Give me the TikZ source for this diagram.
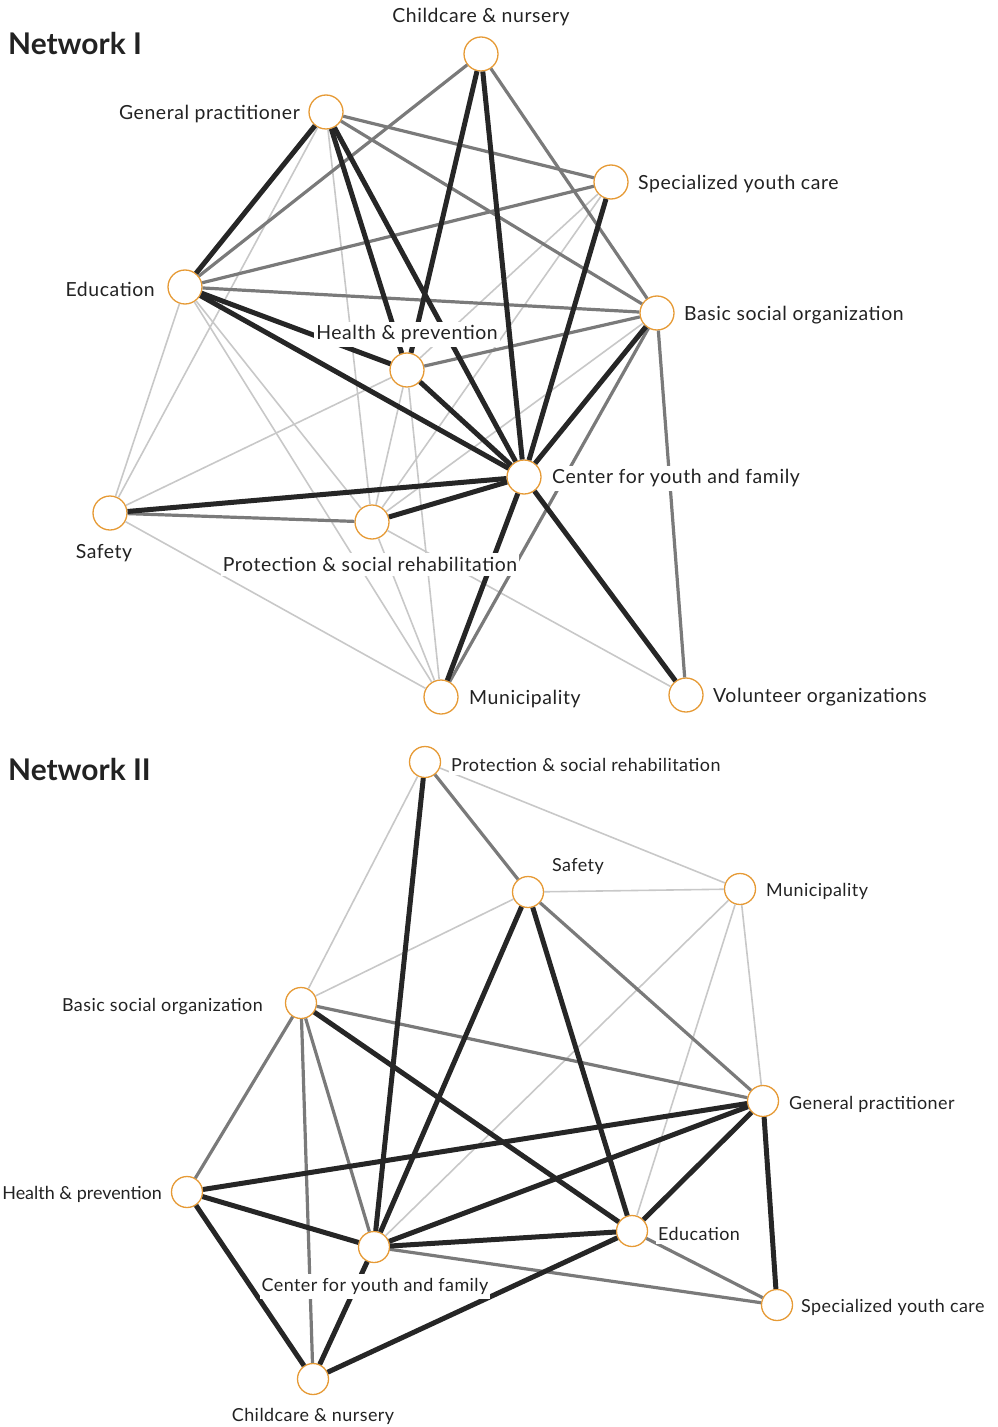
\documentclass[tikz,border=0pt]{standalone}
\usepackage{fontspec}
\setmainfont{Lato}
\definecolor{orng}{HTML}{E69A35}
\definecolor{dkc}{HTML}{262626}
\definecolor{mdc}{HTML}{7A7A7A}
\definecolor{ltc}{HTML}{C8C8C8}
\definecolor{txt}{HTML}{222222}
\tikzset{
  nd/.style={circle, draw=orng, fill=white, line width=1.3bp, minimum size=34bp, inner sep=0pt},
  ndb/.style={nd, minimum size=31bp},
  lb/.style={fill=white, inner xsep=2bp, inner ysep=4bp, yshift=-1.5bp, text=txt, font=\fontsize{19.5}{20}\selectfont\addfontfeatures{LetterSpace=3}},
  lbb/.style={lb, font=\fontsize{18}{19}\selectfont\addfontfeatures{LetterSpace=2.5}},
  ttl/.style={inner sep=0pt, text=txt, font=\fontsize{30}{31}\selectfont\bfseries},
  dk/.style={draw=dkc, line width=5bp},
  md/.style={draw=mdc, line width=3.2bp},
  lt/.style={draw=ltc, line width=1.6bp},
}
\begin{document}
\begin{tikzpicture}[x=1bp, y=-1bp]
\useasboundingbox (0,0) rectangle (997,1427);
% ---------------- Network I ----------------
\node[ttl, anchor=west] (t1) at (8,44) {Network I};
\node[nd] (cn) at (481,54) {};
\node[nd] (gp) at (326,112) {};
\node[nd] (syc) at (611,182) {};
\node[nd] (ed) at (185,287) {};
\node[nd] (bso) at (657,313) {};
\node[nd] (hp) at (407,370) {};
\node[nd] (cyf) at (524,477) {};
\node[nd] (saf) at (110,513) {};
\node[nd] (psr) at (372,522) {};
\node[nd] (mun) at (441,697) {};
\node[nd] (vol) at (686,695) {};
% light
\foreach \a/\b in {gp/saf, gp/psr, ed/saf, ed/psr, ed/mun, saf/hp, saf/mun, hp/psr, hp/mun, syc/hp, syc/psr, bso/psr, psr/vol, psr/mun}
  \draw[lt] (\a) -- (\b);
% medium
\foreach \a/\b in {cn/ed, cn/bso, gp/syc, gp/bso, ed/syc, ed/bso, hp/bso, saf/psr, bso/mun, bso/vol}
  \draw[md] (\a) -- (\b);
% dark
\foreach \a/\b in {gp/ed, gp/hp, gp/cyf, cn/hp, cn/cyf, syc/cyf, ed/hp, ed/cyf, bso/cyf, hp/cyf, saf/cyf, psr/cyf, cyf/mun, cyf/vol}
  \draw[dk] (\a) -- (\b);
% labels
\node[lb] (lcn) at (481,16) {Childcare \& nursery};
\node[lb, anchor=east] (lgp) at (302,113) {General practitioner};
\node[lb, anchor=west] (lsyc) at (636,183) {Specialized youth care};
\node[lb, anchor=east] (led) at (157,288) {Education};
\node[lb, anchor=west] (lbso) at (682,314) {Basic social organization};
\node[lb] (lhp) at (407,333) {Health \& prevention};
\node[lb, anchor=west] (lcyf) at (550,477) {Center for youth and family};
\node[lb] (lsaf) at (104,552) {Safety};
\node[lb] (lpsr) at (370,563) {Protection \& social rehabilitation};
\node[lb, anchor=west] (lmun) at (467,698) {Municipality};
\node[lb, anchor=west] (lvol) at (711,696) {Volunteer organizations};
% ---------------- Network II ----------------
\node[ttl, anchor=west] (t2) at (8,770) {Network II};
\node[ndb] (psr2) at (425,762) {};
\node[ndb] (saf2) at (528,892) {};
\node[ndb] (mun2) at (740,889) {};
\node[ndb] (bso2) at (301,1003) {};
\node[ndb] (gp2) at (763,1101) {};
\node[ndb] (hp2) at (187,1192) {};
\node[ndb] (cyf2) at (374,1247) {};
\node[ndb] (ed2) at (632,1231) {};
\node[ndb] (syc2) at (777,1305) {};
\node[ndb] (cn2) at (313,1379) {};
% light
\foreach \a/\b in {psr2/mun2, psr2/bso2, saf2/mun2, saf2/bso2, mun2/cyf2, mun2/ed2, mun2/gp2}
  \draw[lt] (\a) -- (\b);
% medium
\foreach \a/\b in {psr2/saf2, saf2/gp2, bso2/gp2, bso2/hp2, bso2/cn2, bso2/cyf2, cyf2/syc2, ed2/syc2}
  \draw[md] (\a) -- (\b);
% dark
\foreach \a/\b in {psr2/cyf2, saf2/cyf2, saf2/ed2, bso2/ed2, hp2/gp2, hp2/cyf2, hp2/cn2, cyf2/gp2, cyf2/ed2, cyf2/cn2, gp2/ed2, gp2/syc2, cn2/ed2}
  \draw[dk] (\a) -- (\b);
% labels
\node[lbb, anchor=west] (lpsr2) at (449,763) {Protection \& social rehabilitation};
\node[lbb] (lsaf2) at (578,865) {Safety};
\node[lbb, anchor=west] (lmun2) at (764,890) {Municipality};
\node[lbb, anchor=east] (lbso2) at (265,1005) {Basic social organization};
\node[lbb, anchor=west] (lgp2) at (787,1103) {General practitioner};
\node[lbb, anchor=east, font=\fontsize{18}{19}\selectfont] (lhp2) at (164,1193) {Health \& prevention};
\node[lbb] (lcyf2) at (375,1285) {Center for youth and family};
\node[lbb, anchor=west] (led2) at (656,1232) {Education};
\node[lbb, anchor=west] (lsyc2) at (799,1306) {Specialized youth care};
\node[lbb] (lcn2) at (313,1415) {Childcare \& nursery};
\end{tikzpicture}
\end{document}
